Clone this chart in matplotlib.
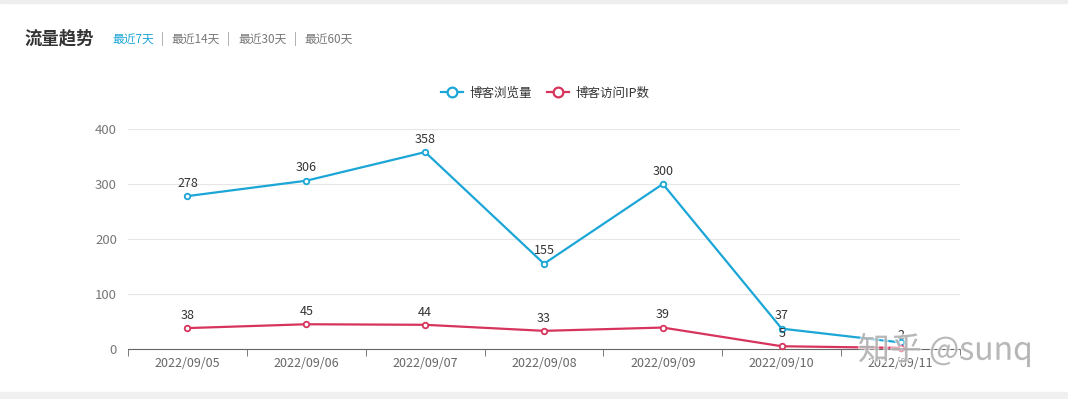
import numpy as np
import matplotlib.pyplot as plt
import matplotlib.patheffects as pe
from matplotlib.lines import Line2D

plt.rcParams['font.family'] = ['Noto Sans CJK SC', 'DejaVu Sans']

dates = ["2022/09/05", "2022/09/06", "2022/09/07", "2022/09/08",
         "2022/09/09", "2022/09/10", "2022/09/11"]
page_views = [278, 306, 358, 155, 300, 37, 12]
visitor_ips = [38, 45, 44, 33, 39, 5, 2]
series_names = ["博客浏览量", "博客访问IP数"]
range_tabs = ["最近7天", "最近14天", "最近30天", "最近60天"]

blue = "#1ba6d7"
red = "#d6345c"
W, H = 1068, 399

fig = plt.figure(figsize=(W / 100, H / 100), dpi=100)
fig.patch.set_facecolor("white")

# grey page strips top and bottom
fig.patches.append(plt.Rectangle((0, 1 - 3 / H), 1, 3 / H, transform=fig.transFigure,
                                 color="#eeeeee", zorder=0))
fig.patches.append(plt.Rectangle((0, 0), 1, 7 / H, transform=fig.transFigure,
                                 color="#f0f0f0", zorder=0))

ax = fig.add_axes([128 / W, (H - 349) / H, (960 - 128) / W, 220 / H])
x = np.arange(len(dates))
ax.set_xlim(-0.5, len(dates) - 0.5)
ax.set_ylim(0, 400)

for vals, c in [(page_views, blue), (visitor_ips, red)]:
    ax.plot(x, vals, color=c, lw=1.6, marker="o", ms=4, mfc="white", mec=c, mew=1.3,
            zorder=3, clip_on=False)

for i, v in enumerate(page_views):
    if i == len(page_views) - 1:
        continue  # hidden behind the other label in the reference
    ax.annotate(str(v), (i, v), xytext=(0, 4.5), textcoords="offset points",
                ha="center", va="bottom", fontsize=9, color="#333333")
for i, v in enumerate(visitor_ips):
    ax.annotate(str(v), (i, v), xytext=(0, 4.5), textcoords="offset points",
                ha="center", va="bottom", fontsize=9, color="#333333")

ax.set_yticks([0, 100, 200, 300, 400])
ax.grid(axis="y", color="#e6e6e6", lw=0.8)
ax.set_axisbelow(True)
ax.set_xticks(x)
ax.set_xticklabels(dates)
ax.set_xticks(np.arange(len(dates) + 1) - 0.5, minor=True)
ax.tick_params(axis="x", which="major", length=0, pad=6, labelsize=9, labelcolor="#666666")
ax.tick_params(axis="x", which="minor", length=5, color="#666666", direction="out")
ax.tick_params(axis="y", length=0, pad=8, labelsize=9.5, labelcolor="#777777")
for s in ["left", "right", "top"]:
    ax.spines[s].set_visible(False)
ax.spines["bottom"].set_color("#666666")
ax.set_facecolor("none")

handles = [Line2D([], [], color=c, lw=1.6, marker="o", ms=7, mfc="white", mec=c, mew=1.6)
           for c in (blue, red)]
fig.legend(handles, series_names, loc="center", bbox_to_anchor=(545 / W, 1 - 93 / H),
           ncol=2, frameon=False, fontsize=9, handlelength=1.8, handletextpad=0.5,
           columnspacing=1.2, labelcolor="#333333")

fig.text(24 / W, 1 - 38 / H, "流量趋势", fontsize=12.5, fontweight="bold",
         color="#333333", va="center")
xpos = 112
for k, tab in enumerate(range_tabs):
    t = fig.text(xpos / W, 1 - 39 / H, tab, fontsize=8.5, va="center",
                 color=blue if k == 0 else "#777777")
    fig.canvas.draw()
    w = t.get_window_extent().width
    xpos += w + 7
    if k < len(range_tabs) - 1:
        fig.text(xpos / W, 1 - 39 / H, "|", fontsize=8.5, va="center", color="#999999")
        xpos += 11

fig.text(858 / W, 1 - 350 / H, "知乎 @sunq", fontsize=23, color="#9a9a9a",
         alpha=0.6, va="center", zorder=10,
         path_effects=[pe.withStroke(linewidth=2, foreground="white")])

fig.savefig("out.png", dpi=100, facecolor="white")
